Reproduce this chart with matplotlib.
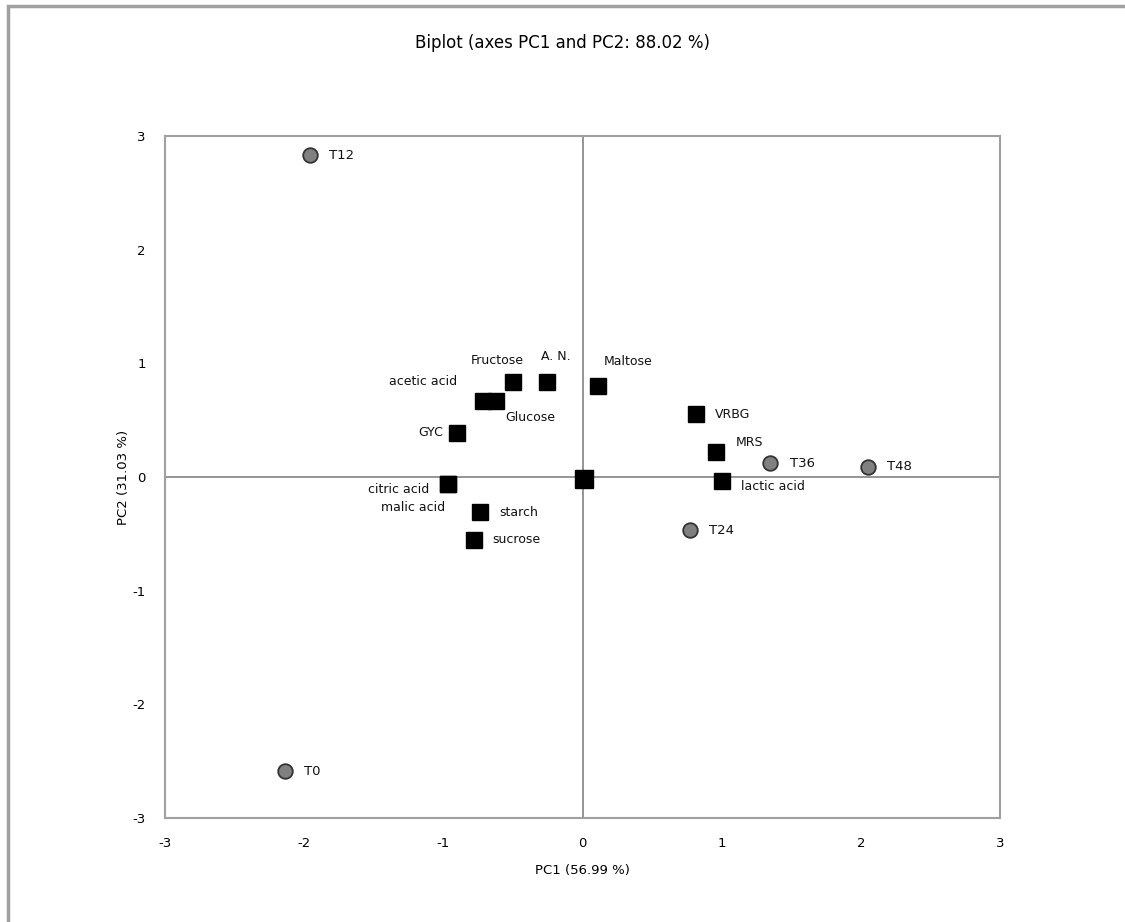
import matplotlib
matplotlib.use("Agg")
import matplotlib.pyplot as plt
from matplotlib.patches import Rectangle

plt.rcParams["axes.unicode_minus"] = False

# observations (grey circles)
obs_names = ["T0", "T12", "T24", "T36", "T48"]
obs_x = [-2.14, -1.96, 0.77, 1.35, 2.05]
obs_y = [-2.59, 2.83, -0.47, 0.12, 0.09]

# variables (black squares)
var_names = ["Fructose", "A. N.", "Maltose", "acetic acid", "Glucose", "GYC",
             "citric acid", "malic acid", "starch", "sucrose", "VRBG", "MRS",
             "lactic acid"]
var_x = [-0.50, -0.255, 0.11, -0.715, -0.62, -0.90, -0.97, -0.97, -0.74, -0.78,
         0.815, 0.96, 1.00]
var_y = [0.84, 0.84, 0.80, 0.67, 0.67, 0.39, -0.06, -0.06, -0.31, -0.55,
         0.55, 0.22, -0.035]
# label offsets in points (dx, dy, ha)
var_offsets = [(-11.5, 15, "center"), (6, 18, "center"), (4, 18, "left"),
               (-19, 14, "right"), (6.5, -12, "left"), (-10, 0, "right"),
               (-13, -4, "right"), (-2, -17, "right"), (14, 0, "left"),
               (13, 0, "left"), (14, 0, "left"), (14, 6.5, "left"),
               (14, -4, "left")]

centre_x = [0.01]
centre_y = [-0.02]

ticks = [-3, -2, -1, 0, 1, 2, 3]

fig = plt.figure(figsize=(11.25, 9.22), dpi=100)
fig.patches.append(Rectangle((0.007, -0.05), 1.05, 1.044, transform=fig.transFigure,
                             fill=False, edgecolor="#a0a0a0", linewidth=2.5))
ax = fig.add_axes([0.1467, 0.1128, 0.7422, 0.7397])

ax.axhline(0, color="#8c8c8c", linewidth=1.3, zorder=1)
ax.axvline(0, color="#8c8c8c", linewidth=1.3, zorder=1)

ax.plot(var_x, var_y, linestyle="none", marker="s", markersize=11,
        markerfacecolor="black", markeredgecolor="black", zorder=3)
ax.plot(centre_x, centre_y, linestyle="none", marker="s", markersize=13,
        markerfacecolor="black", markeredgecolor="black", zorder=3)
ax.plot(obs_x, obs_y, linestyle="none", marker="o", markersize=10.5,
        markerfacecolor="#808080", markeredgecolor="#333333",
        markeredgewidth=1.3, zorder=3)

for name, x, y, (dx, dy, ha) in zip(var_names, var_x, var_y, var_offsets):
    ax.annotate(name, (x, y), xytext=(dx, dy), textcoords="offset points",
                ha=ha, va="center", fontsize=9, color="#111111")
for name, x, y in zip(obs_names, obs_x, obs_y):
    ax.annotate(name, (x, y), xytext=(14, 0), textcoords="offset points",
                ha="left", va="center", fontsize=9.5, color="#111111")

ax.set_xlim(-3, 3)
ax.set_ylim(-3, 3)
ax.set_xticks(ticks)
ax.set_yticks(ticks)
ax.tick_params(length=0, labelsize=9.5, pad=14)
for s in ax.spines.values():
    s.set_color("#a0a0a0")
    s.set_linewidth(1.5)

ax.set_xlabel("PC1 (56.99 %)", fontsize=9.5, labelpad=10)
ax.set_ylabel("PC2 (31.03 %)", fontsize=9.5, labelpad=2)
fig.text(0.5, 0.953, "Biplot (axes PC1 and PC2: 88.02 %)", ha="center",
         va="center", fontsize=12)

fig.savefig("out.png", dpi=100)
